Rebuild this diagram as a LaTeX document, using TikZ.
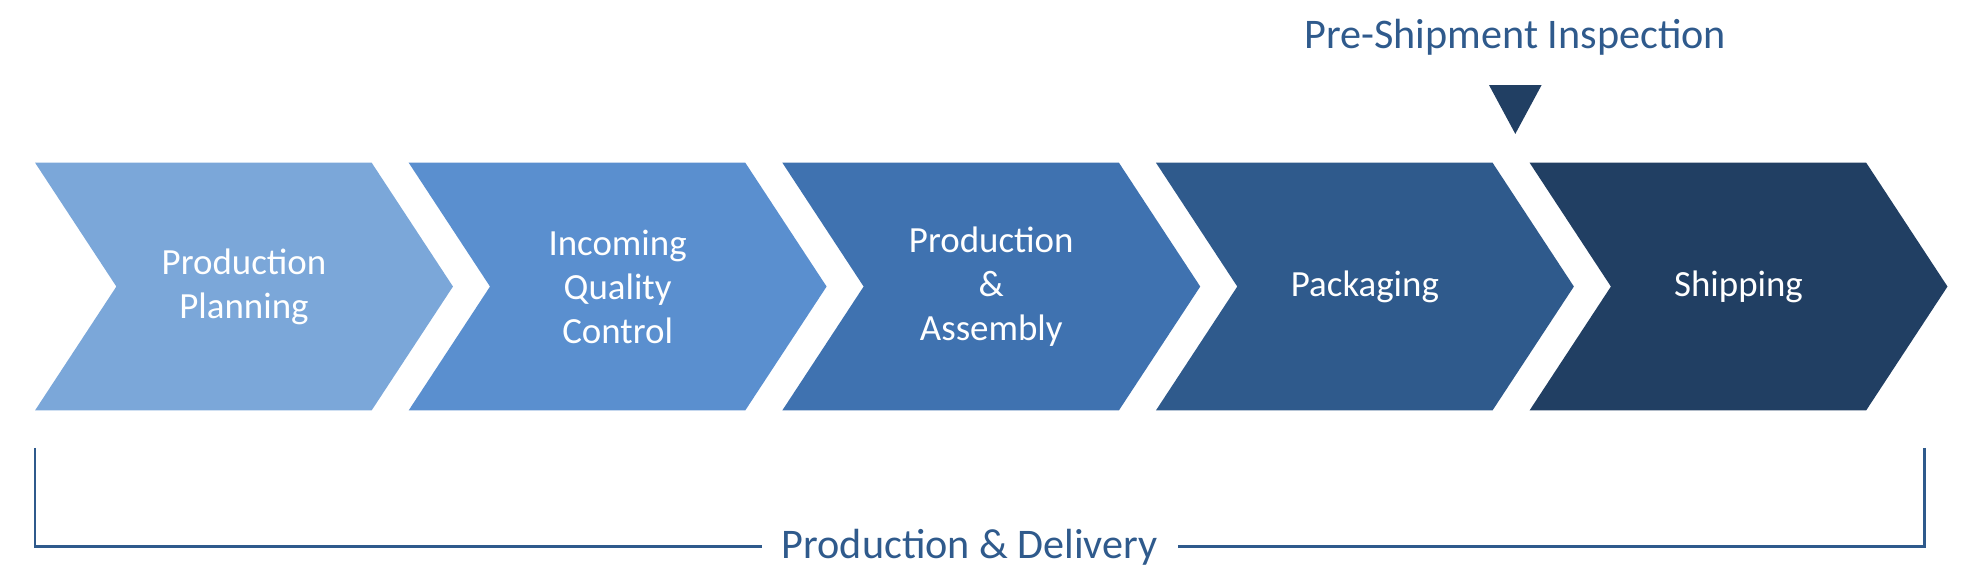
\documentclass[tikz,border=0pt]{standalone}
\usepackage{fontspec}
\setmainfont{Carlito}
\usetikzlibrary{positioning}
\definecolor{cA}{HTML}{7BA7D9}
\definecolor{cB}{HTML}{5A8FCF}
\definecolor{cC}{HTML}{3F72B0}
\definecolor{cD}{HTML}{2F5A8C}
\definecolor{cE}{HTML}{213F63}
\tikzset{steplabel/.style={text=white,align=center,font=\fontsize{21}{25}\selectfont},
  bluetext/.style={text=cD,font=\fontsize{24}{28}\selectfont},
  bracket/.style={draw=cD,line width=1.5pt}}
\begin{document}
\begin{tikzpicture}[x=0.025026cm,y=-0.025026cm]
  \useasboundingbox (0,0) rectangle (1568,467);
  \foreach \i/\col/\txt in {0/cA/{Production\\Planning},1/cB/{Incoming\\Quality\\Control},
      2/cC/{Production\\\&\\Assembly},3/cD/{Packaging},4/cE/{Shipping}} {
    \pgfmathsetmacro{\xo}{28+298.6*\i}
    \fill[\col] (\xo,130) -- ++(269,0) -- ++(65,99) -- ++(-65,99) -- ++(-269,0) -- ++(65,-99) -- cycle;
    \node[steplabel] (step\i) at (\xo+167,229) {\txt};
  }
  % inspection marker
  \node[bluetext] (insp) at (1211,30) {Pre-Shipment Inspection};
  \fill[cE] (1190,68) -- (1232,68) -- (1211,107) -- cycle;
  % bracket
  \node[bluetext] (deliv) at (775,437) {Production \& Delivery};
  \coordinate (bl) at (28,358);
  \coordinate (br) at (1538,358);
  \draw[bracket] (bl) |- ([xshift=-8]deliv.west);
  \draw[bracket] (br) |- ([xshift=8]deliv.east);
\end{tikzpicture}
\end{document}
